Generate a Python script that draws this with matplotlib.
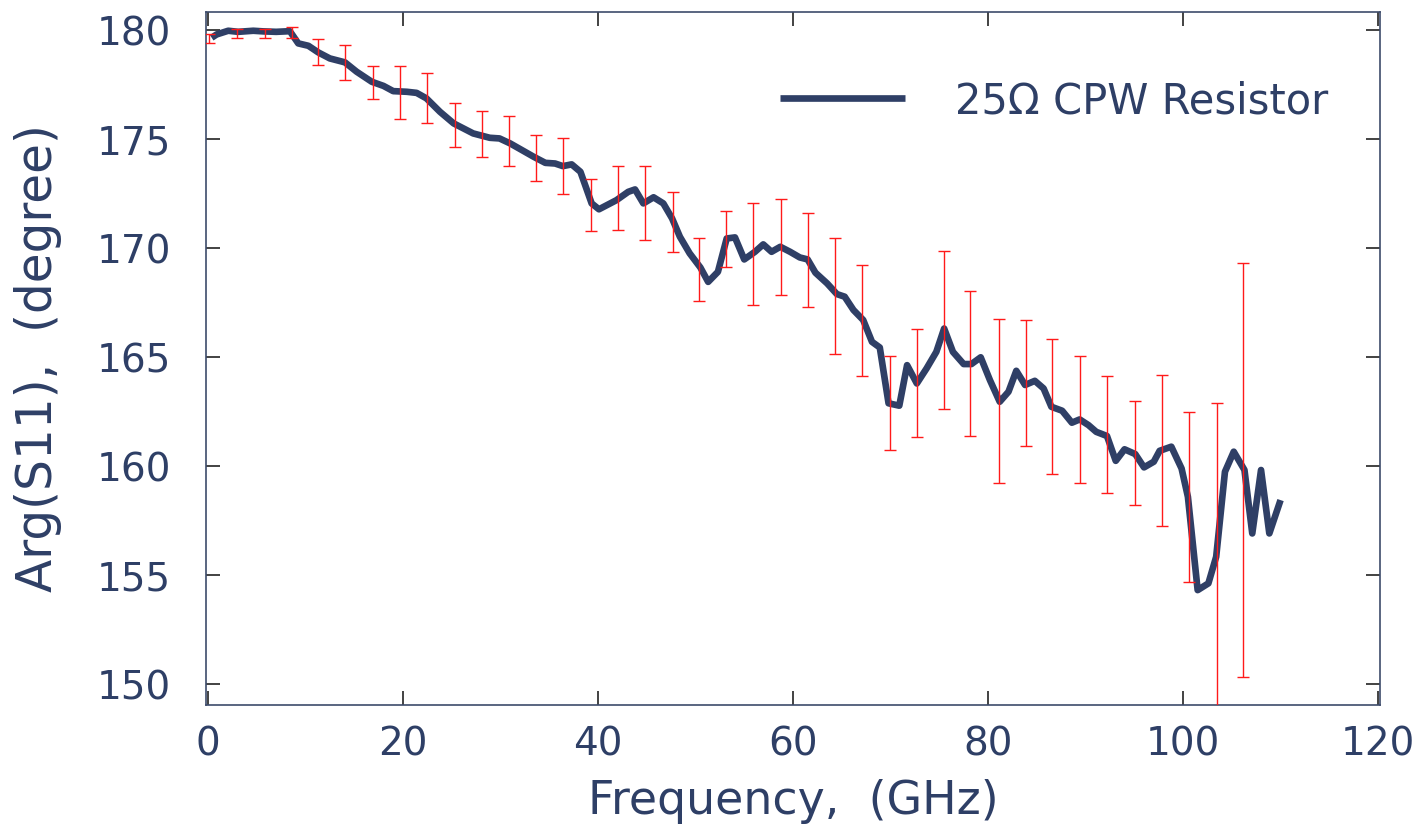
import matplotlib
matplotlib.use("Agg")
import matplotlib.pyplot as plt
import numpy as np

# ---- data ----
freq = [0.38, 0.89, 2.08, 3.1, 4.65, 5.7, 7.0, 8.4, 9.26, 10.3, 11.3, 12.5, 14.05,
        15.25, 16.8, 18.0, 19.0, 20.4, 21.4, 22.4, 23.8, 25.2, 27.2, 28.9, 29.9,
        31.0, 32.3, 33.4, 34.6, 35.6, 36.4, 37.3, 38.2, 39.35, 40.1, 41.9, 43.1,
        43.8, 44.65, 45.7, 46.7, 47.6, 48.4, 49.4, 50.5, 51.3, 52.3, 53.2, 54.05,
        55.0, 56.1, 56.95, 57.8, 58.7, 59.7, 60.7, 61.5, 62.3, 63.5, 64.5, 65.3,
        66.2, 67.2, 68.1, 68.9, 69.8, 70.9, 71.7, 72.7, 73.7, 74.7, 75.5, 76.4,
        77.5, 78.3, 79.25, 80.2, 81.2, 82.1, 82.9, 83.8, 84.8, 85.7, 86.5, 87.6,
        88.6, 89.4, 90.3, 91.1, 92.2, 93.1, 94.0, 95.1, 96.0, 97.0, 97.6, 98.8,
        99.85, 100.5, 101.5, 102.6, 103.4, 104.3, 105.2, 106.3, 107.1, 108.0,
        108.85, 110.0]
phase = [179.65, 179.80, 179.97, 179.92, 179.97, 179.94, 179.92, 179.95, 179.39,
         179.28, 178.98, 178.70, 178.52, 178.09, 177.63, 177.44, 177.20, 177.17,
         177.12, 176.87, 176.25, 175.72, 175.26, 175.06, 175.03, 174.80, 174.47,
         174.19, 173.91, 173.88, 173.76, 173.84, 173.50, 172.05, 171.78, 172.20,
         172.58, 172.69, 172.05, 172.33, 172.05, 171.36, 170.52, 169.76, 169.11,
         168.45, 168.91, 170.44, 170.49, 169.48, 169.83, 170.17, 169.83, 170.06,
         169.83, 169.57, 169.48, 168.87, 168.38, 167.89, 167.77, 167.16, 166.70,
         165.70, 165.44, 162.88, 162.77, 164.63, 163.79, 164.48, 165.24, 166.31,
         165.24, 164.68, 164.68, 164.99, 163.94, 162.95, 163.41, 164.37, 163.72,
         163.91, 163.56, 162.72, 162.54, 161.99, 162.14, 161.88, 161.57, 161.38,
         160.24, 160.77, 160.55, 159.94, 160.20, 160.70, 160.89, 159.89, 158.59,
         154.31, 154.62, 155.84, 159.74, 160.66, 159.82, 156.91, 159.82, 156.91,
         158.44]

eb_freq = [0.13, 3.0, 5.85, 8.65, 11.3, 14.1, 16.9, 19.7, 22.5, 25.3, 28.1, 30.9,
           33.65, 36.4, 39.25, 42.1, 44.8, 47.7, 50.4, 53.1, 55.9, 58.8, 61.55,
           64.3, 67.1, 69.9, 72.7, 75.5, 78.2, 81.1, 83.9, 86.6, 89.4, 92.2, 95.1,
           97.8, 100.65, 103.45, 106.2]
eb_low = [179.39, 179.62, 179.66, 179.66, 178.38, 177.71, 176.83, 175.93, 175.73,
          174.65, 174.16, 173.77, 173.10, 172.48, 170.77, 170.83, 170.37, 169.82,
          167.58, 169.14, 167.37, 167.86, 167.31, 165.14, 164.11, 160.72, 161.32,
          162.60, 161.38, 159.21, 160.92, 159.63, 159.22, 158.75, 158.21, 157.25,
          154.66, 148.50, 150.31]
eb_high = [179.80, 180.06, 180.06, 180.14, 179.60, 179.33, 178.36, 178.36, 178.04,
           176.67, 176.27, 176.04, 175.18, 175.04, 173.15, 173.77, 173.78, 172.58,
           170.47, 171.71, 172.05, 172.26, 171.59, 170.46, 169.21, 165.05, 166.27,
           169.88, 168.04, 166.76, 166.70, 165.81, 165.06, 164.11, 162.97, 164.17,
           162.46, 162.88, 169.33]

x_ticks = [0, 20, 40, 60, 80, 100, 120]
y_ticks = [150, 155, 160, 165, 170, 175, 180]
series_label = "25Ω CPW Resistor"
x_label = "Frequency,  (GHz)"
y_label = "Arg(S11),  (degree)"

# ---- styling ----
TEXT = "#2E3F66"
LINE = "#2F3F66"
SPINE = "#3D4B6B"
plt.rcParams['font.family'] = ['DejaVu Sans']

fig = plt.figure(figsize=(14.28, 8.24), dpi=100)
ax = fig.add_axes([206/1428, 1 - 705/824, (1380-206)/1428, (705-12)/824])

ax.plot(freq, phase, color=LINE, lw=4.8, solid_joinstyle='round',
        solid_capstyle='butt', label=series_label, zorder=2)

lo = np.array(eb_low); hi = np.array(eb_high)
ax.errorbar(eb_freq, (lo + hi) / 2, yerr=(hi - lo) / 2, fmt='none',
            ecolor='#FF1A1A', elinewidth=1.0, capsize=4.5, capthick=1.0, zorder=3)

ax.set_xlim(-0.2, 120.2)
ax.set_ylim(149.04, 180.83)
ax.set_xticks(x_ticks)
ax.set_yticks(y_ticks)

for s in ax.spines.values():
    s.set_color(SPINE)
    s.set_linewidth(1.2)

ax.tick_params(axis='both', direction='in', length=10, width=1.2, color='#222222',
               top=True, right=True, labelsize=28, labelcolor=TEXT)
ax.tick_params(axis='x', pad=15)
ax.tick_params(axis='y', pad=25)

ax.set_xlabel(x_label, fontsize=33, color=TEXT, labelpad=11)
ax.set_ylabel(y_label, fontsize=35, color=TEXT, labelpad=25)

leg = ax.legend(loc='center left',
                bbox_to_anchor=((780-206)/1174, (705-101)/693),
                frameon=False, fontsize=30, handlelength=3.0,
                handletextpad=1.2, borderpad=0, borderaxespad=0)
for t in leg.get_texts():
    t.set_color(TEXT)

fig.savefig("out.png", dpi=100)
